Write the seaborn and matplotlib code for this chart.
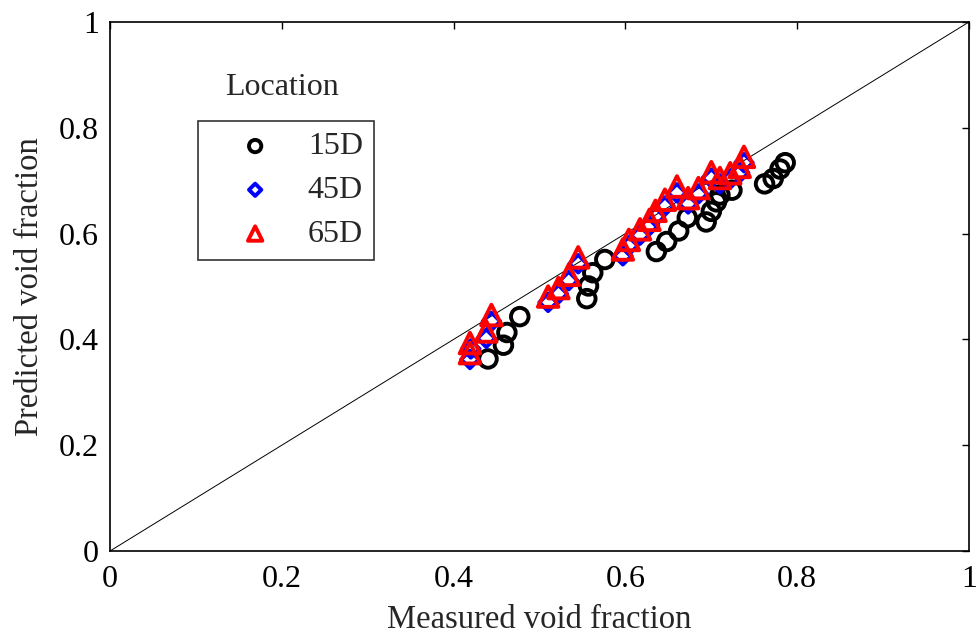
import numpy as np
import pandas as pd
import seaborn as sns
import matplotlib.pyplot as plt

# Measured vs predicted void fraction at three axial locations
x_15d = [0.440, 0.458, 0.462, 0.477, 0.555, 0.557, 0.562, 0.576, 0.636, 0.648, 0.662,
         0.672, 0.694, 0.700, 0.706, 0.710, 0.724, 0.762, 0.772, 0.780, 0.786]
y_15d = [0.363, 0.389, 0.413, 0.443, 0.477, 0.501, 0.526, 0.551, 0.566, 0.585, 0.605,
         0.630, 0.622, 0.642, 0.660, 0.673, 0.682, 0.694, 0.704, 0.722, 0.734]

x_45d = [0.419, 0.420, 0.438, 0.444, 0.510, 0.522, 0.534, 0.545, 0.597, 0.604, 0.617,
         0.628, 0.635, 0.646, 0.660, 0.673, 0.685, 0.700, 0.710, 0.722, 0.733, 0.738]
y_45d = [0.362, 0.382, 0.402, 0.434, 0.470, 0.486, 0.511, 0.543, 0.558, 0.577, 0.597,
         0.615, 0.632, 0.652, 0.677, 0.656, 0.675, 0.705, 0.694, 0.703, 0.715, 0.734]

x_65d = [0.419, 0.419, 0.438, 0.444, 0.510, 0.522, 0.534, 0.545, 0.597, 0.604, 0.617,
         0.628, 0.635, 0.646, 0.660, 0.673, 0.685, 0.700, 0.710, 0.722, 0.733, 0.738]
y_65d = [0.374, 0.393, 0.415, 0.446, 0.481, 0.497, 0.522, 0.555, 0.570, 0.588, 0.608,
         0.626, 0.643, 0.664, 0.689, 0.667, 0.686, 0.716, 0.705, 0.714, 0.726, 0.745]

sns.set_style("white")
plt.rcParams['font.family'] = ['Liberation Serif', 'DejaVu Serif']

fig = plt.figure(figsize=(9.79, 6.35), dpi=100)
ax = fig.add_axes([0.1124, 0.1323, 0.8774, 0.8331])

# 1:1 reference line
ax.plot([0, 1], [0, 1], color='black', linewidth=0.7, zorder=1)

sns.scatterplot(x=x_15d, y=y_15d, ax=ax, marker='o', s=160, facecolors='none',
                edgecolor='black', linewidth=2.8, label='15D', zorder=3)
sns.scatterplot(x=x_45d, y=y_45d, ax=ax, marker='D', s=80, facecolors='none',
                edgecolor='blue', linewidth=2.8, label='45D', zorder=4)
sns.scatterplot(x=x_65d, y=y_65d, ax=ax, marker='^', s=220, facecolors='none',
                edgecolor='red', linewidth=2.8, label='65D', zorder=5)

ax.set_xlim(0, 1)
ax.set_ylim(0, 1)
ticks = [0, 0.2, 0.4, 0.6, 0.8, 1]
tick_labels = ['0', '0.2', '0.4', '0.6', '0.8', '1']
ax.set_xticks(ticks)
ax.set_xticklabels(tick_labels)
ax.set_yticks(ticks)
ax.set_yticklabels(tick_labels)
ax.tick_params(direction='in', length=5, width=1, labelsize=23, top=True, right=True,
               colors='black')
ax.tick_params(axis='x', pad=10)
ax.tick_params(axis='y', pad=8)
for sp in ax.spines.values():
    sp.set_color('black')
    sp.set_linewidth(1.2)

ax.set_xlabel('Measured void fraction', fontsize=23.5, labelpad=8)
ax.set_ylabel('Predicted void fraction', fontsize=23.5, labelpad=10)

leg = ax.legend(loc='upper left', bbox_to_anchor=(0.102, 0.813), frameon=True,
                fancybox=False, fontsize=23, handletextpad=0.2, borderpad=0.35,
                labelspacing=0.45, borderaxespad=0, handlelength=2.9,
                markerscale=0.7)
leg.get_frame().set_edgecolor('black')
leg.get_frame().set_linewidth(1.2)

ax.text(0.2, 0.877, 'Location', transform=ax.transAxes, fontsize=23, ha='center',
        va='center')

fig.savefig('out.png', dpi=100)
